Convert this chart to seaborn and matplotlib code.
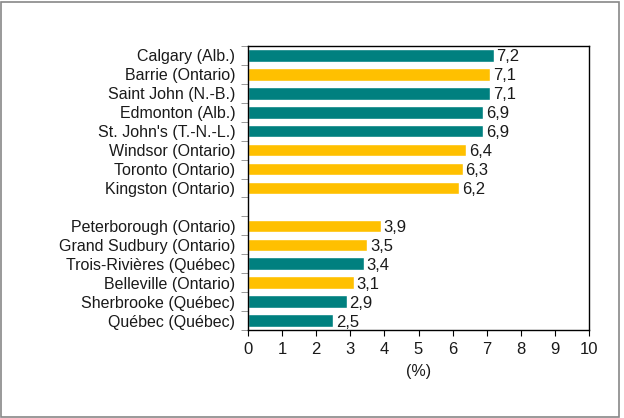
import pandas as pd
import matplotlib.pyplot as plt
import seaborn as sns
from matplotlib.patches import Rectangle
from matplotlib.ticker import FixedLocator

cities = ["Calgary (Alb.)", "Barrie (Ontario)", "Saint John (N.-B.)", "Edmonton (Alb.)",
          "St. John's (T.-N.-L.)", "Windsor (Ontario)", "Toronto (Ontario)", "Kingston (Ontario)",
          "Peterborough (Ontario)", "Grand Sudbury (Ontario)", "Trois-Rivières (Québec)",
          "Belleville (Ontario)", "Sherbrooke (Québec)", "Québec (Québec)"]
values = [7.2, 7.1, 7.1, 6.9, 6.9, 6.4, 6.3, 6.2, 3.9, 3.5, 3.4, 3.1, 2.9, 2.5]
groups = ["other", "ontario", "other", "other", "other", "ontario", "ontario", "ontario",
          "ontario", "ontario", "other", "ontario", "other", "other"]

# blank slot between the two blocks
order = cities[:8] + [" "] + cities[8:]

df = pd.DataFrame({"city": cities, "value": values, "group": groups})
palette = {"other": "#00807F", "ontario": "#FFC000"}

sns.set_style("white")
plt.rcParams["font.family"] = ["Liberation Sans", "DejaVu Sans"]
fs = 11.5

fig = plt.figure(figsize=(6.24, 4.18), dpi=100)
ax = fig.add_axes([248 / 624, 1 - 330 / 418, (589 - 248) / 624, (330 - 46) / 418])

sns.barplot(data=df, x="value", y="city", hue="group", order=order, palette=palette,
            dodge=False, width=0.66, legend=False, ax=ax, saturation=1)

for bar_container in ax.containers:
    for rect in bar_container:
        w = rect.get_width()
        if w != w or w == 0:
            continue
        ax.text(w + 0.08, rect.get_y() + rect.get_height() / 2 + 0.08,
                f"{w:.1f}".replace(".", ","), va="center", ha="left",
                fontsize=12, color="#1a1a1a")

ax.set_xlim(0, 10)
ax.set_xticks(range(0, 11))
ax.set_ylim(len(order) - 0.5, -0.5)
ax.set_xlabel("(%)", fontsize=fs, color="#1a1a1a", labelpad=5)
ax.set_ylabel("")
ax.tick_params(axis="y", length=0, labelsize=fs, labelcolor="#1a1a1a", pad=9)
ax.tick_params(axis="x", length=4, direction="out", labelsize=fs + 0.5, labelcolor="#1a1a1a",
               color="black", bottom=True, pad=5)
ax.yaxis.set_minor_locator(FixedLocator([i - 0.5 for i in range(len(order) + 1)]))
ax.tick_params(axis="y", which="minor", length=5, color="#888888", left=True, direction="out")
for s in ax.spines.values():
    s.set_visible(True)
    s.set_color("black")
    s.set_linewidth(1)

fig.patches.append(Rectangle((1 / 624, 1 / 418), 618 / 624, 415 / 418, transform=fig.transFigure,
                             fill=False, edgecolor="#888888", linewidth=1.2))

fig.savefig("out.png", dpi=100)
